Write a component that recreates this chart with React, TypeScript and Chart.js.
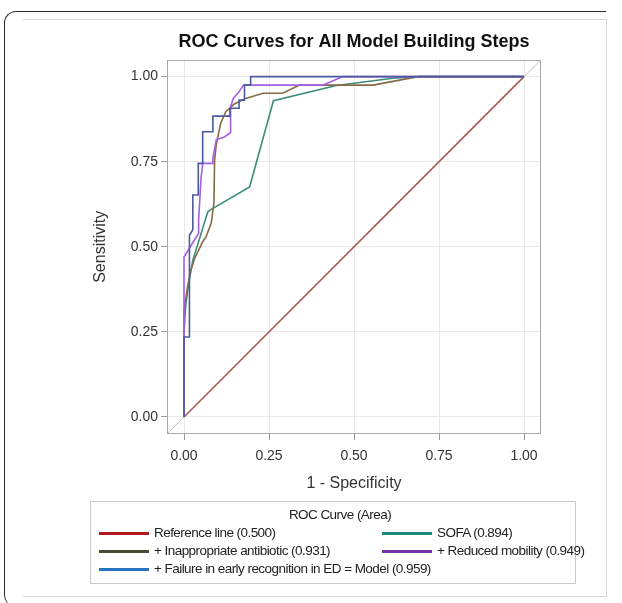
import React, { useEffect, useRef } from 'react';
import { Chart, registerables } from 'chart.js';

Chart.register(...registerables);

// ---- data ----
const tickValues = [0, 0.25, 0.5, 0.75, 1];

const diagX = [-0.05, 1.05];
const diagY = [-0.05, 1.05];

const refX = [0, 1];
const refY = [0, 1];

const sofaX = [0, 0, 0.005, 0.015, 0.026, 0.046, 0.07, 0.08, 0.193, 0.263, 0.448, 0.614, 0.69, 1];
const sofaY = [0, 0.25, 0.33, 0.4, 0.461, 0.525, 0.603, 0.61, 0.676, 0.929, 0.974, 0.995, 1, 1];

const antibioticX = [0, 0, 0.01, 0.02, 0.031, 0.055, 0.065, 0.08, 0.088, 0.09, 0.095, 0.108, 0.123, 0.147, 0.181, 0.233, 0.29, 0.34, 0.556, 0.673, 0.69, 1];
const antibioticY = [0, 0.31, 0.38, 0.43, 0.465, 0.515, 0.53, 0.569, 0.628, 0.755, 0.8, 0.863, 0.897, 0.919, 0.936, 0.951, 0.951, 0.975, 0.975, 0.997, 1, 1];

const mobilityX = [0, 0, 0.043, 0.043, 0.05, 0.055, 0.085, 0.085, 0.095, 0.117, 0.137, 0.137, 0.145, 0.16, 0.175, 0.408, 0.467, 1];
const mobilityY = [0, 0.47, 0.54, 0.578, 0.7, 0.745, 0.745, 0.76, 0.815, 0.822, 0.835, 0.912, 0.936, 0.953, 0.975, 0.975, 1, 1];

const modelX = [0, 0, 0.016, 0.016, 0.026, 0.026, 0.042, 0.042, 0.055, 0.055, 0.085, 0.085, 0.135, 0.135, 0.162, 0.162, 0.178, 0.178, 0.196, 0.196, 1];
const modelY = [0, 0.235, 0.235, 0.534, 0.55, 0.652, 0.652, 0.745, 0.745, 0.838, 0.838, 0.884, 0.884, 0.907, 0.907, 0.931, 0.931, 0.975, 0.975, 1, 1];

const legendTitle = 'ROC Curve (Area)';
const legendLabels = [
  'Reference line (0.500)',
  'SOFA (0.894)',
  '+ Inappropriate antibiotic (0.931)',
  '+ Reduced mobility (0.949)',
  '+ Failure in early recognition in ED = Model (0.959)',
];
const legendColors = ['#b3161c', '#1b8a7f', '#4a4a38', '#7434a8', '#2574c0'];
const lineColors = ['#ab5a52', '#3b8c7a', '#866a44', '#a65ee6', '#4b5a9f'];

const FONT = "'Liberation Sans', Arial, Helvetica, sans-serif";

const pts = (xs: number[], ys: number[]) => xs.map((x, i) => ({ x, y: ys[i] }));

export default function App() {
  const canvasRef = useRef<HTMLCanvasElement>(null);

  useEffect(() => {
    const canvas = canvasRef.current;
    if (!canvas) return;

    const framePlugin = {
      id: 'frame',
      afterDatasetsDraw(chart: any) {
        const { ctx, chartArea: a } = chart;
        ctx.save();
        ctx.strokeStyle = '#a8a8a8';
        ctx.lineWidth = 1;
        ctx.strokeRect(
          Math.round(a.left) + 0.5,
          Math.round(a.top) + 0.5,
          Math.round(a.right - a.left) - 1,
          Math.round(a.bottom - a.top) - 1
        );
        ctx.restore();
      },
    };

    const ds = (xs: number[], ys: number[], color: string, order: number, width = 1.6) => ({
      data: pts(xs, ys),
      borderColor: color,
      backgroundColor: color,
      borderWidth: width,
      pointRadius: 0,
      pointHoverRadius: 0,
      tension: 0,
      fill: false,
      order,
    });

    const setTicks = (s: any) => {
      s.ticks = tickValues.map((v) => ({ value: v }));
    };

    const chart = new Chart(canvas, {
      type: 'line',
      data: {
        datasets: [
          { ...ds(diagX, diagY, '#c4c4c4', 6, 1), label: 'diagonal' },
          { ...ds(refX, refY, lineColors[0], 5), label: legendLabels[0] },
          { ...ds(sofaX, sofaY, lineColors[1], 4), label: legendLabels[1] },
          { ...ds(antibioticX, antibioticY, lineColors[2], 3), label: legendLabels[2] },
          { ...ds(mobilityX, mobilityY, lineColors[3], 2), label: legendLabels[3] },
          { ...ds(modelX, modelY, lineColors[4], 1), label: legendLabels[4] },
        ] as any,
      },
      options: {
        responsive: false,
        animation: false,
        devicePixelRatio: 1,
        layout: { padding: { left: 90, right: 81, top: 20, bottom: 109 } },
        plugins: {
          legend: { display: false },
          tooltip: { enabled: false },
          title: {
            display: true,
            text: 'ROC Curves for All Model Building Steps',
            fullSize: false,
            color: '#111',
            font: { family: FONT, size: 18, weight: 'bold' },
            padding: { top: 11, bottom: 7 },
          },
        },
        scales: {
          x: {
            type: 'linear',
            min: -0.05,
            max: 1.05,
            afterBuildTicks: setTicks,
            afterFit: (s: any) => {
              s.height = 60;
            },
            grid: { color: '#e9e9e9', tickColor: '#9a9a9a', tickLength: 6, lineWidth: 1 },
            border: { display: false },
            ticks: {
              color: '#333',
              padding: 8,
              font: { family: FONT, size: 14 },
              callback: (v: any) => Number(v).toFixed(2),
              maxRotation: 0,
            },
            title: {
              display: true,
              text: '1 - Specificity',
              color: '#333',
              font: { family: FONT, size: 16 },
              padding: { top: 0, bottom: 1 },
            },
          },
          y: {
            type: 'linear',
            min: -0.05,
            max: 1.05,
            afterBuildTicks: setTicks,
            afterFit: (s: any) => {
              s.width = 77;
            },
            grid: { color: '#e9e9e9', tickColor: '#9a9a9a', tickLength: 6, lineWidth: 1 },
            border: { display: false },
            ticks: {
              color: '#333',
              padding: 3,
              font: { family: FONT, size: 14 },
              callback: (v: any) => Number(v).toFixed(2),
            },
            title: {
              display: true,
              text: 'Sensitivity',
              color: '#333',
              font: { family: FONT, size: 16 },
              padding: { top: 1, bottom: 0 },
            },
          },
        },
      } as any,
      plugins: [framePlugin],
    });

    return () => chart.destroy();
  }, []);

  const legendPos = [
    { left: 8, top: 31 },
    { left: 291, top: 31 },
    { left: 8, top: 49 },
    { left: 291, top: 49 },
    { left: 8, top: 67 },
  ];

  return (
    <div style={{ position: 'absolute', left: 0, top: 0, width: 622, height: 603, background: '#fff', overflow: 'hidden', fontFamily: FONT }}>
      {/* outer dark rounded border */}
      <div
        style={{
          position: 'absolute',
          left: 4,
          top: 11,
          width: 602,
          height: 596,
          borderLeft: '1.5px solid #2a2a2a',
          borderTop: '1.5px solid #2a2a2a',
          borderTopLeftRadius: 12,
          borderBottomLeftRadius: 12,
          boxSizing: 'border-box',
        }}
      />
      {/* inner light panel */}
      <div
        style={{
          position: 'absolute',
          left: 23,
          top: 19,
          width: 584,
          height: 578,
          borderTop: '1px solid #d6d6d6',
          borderRight: '1px solid #d6d6d6',
          borderBottom: '1px solid #d6d6d6',
          boxSizing: 'border-box',
        }}
      />
      <canvas ref={canvasRef} width={622} height={603} style={{ position: 'absolute', left: 0, top: 0, width: 622, height: 603 }} />
      {/* legend */}
      <div
        style={{
          position: 'absolute',
          left: 90,
          top: 501,
          width: 486,
          height: 83,
          border: '1px solid #c9c9c9',
          boxSizing: 'border-box',
          color: '#222',
          fontSize: 13.5,
          letterSpacing: '-0.55px',
        }}
      >
        <div style={{ position: 'absolute', left: 0, right: 0, top: 13, transform: 'translateY(-50%)', textAlign: 'center', lineHeight: '16px', whiteSpace: 'nowrap', paddingLeft: 14 }}>
          {legendTitle}
        </div>
        {legendLabels.map((lab, i) => (
          <div
            key={lab}
            style={{
              position: 'absolute',
              left: legendPos[i].left,
              top: legendPos[i].top,
              transform: 'translateY(-50%)',
              display: 'flex',
              alignItems: 'center',
              whiteSpace: 'nowrap',
              lineHeight: '16px',
            }}
          >
            <span style={{ display: 'inline-block', width: 50, height: 3, background: legendColors[i], marginRight: 5 }} />
            <span>{lab}</span>
          </div>
        ))}
      </div>
    </div>
  );
}
